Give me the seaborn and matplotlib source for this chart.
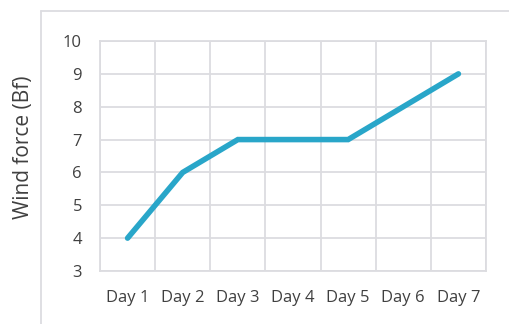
import matplotlib
matplotlib.use("Agg")
import matplotlib.pyplot as plt
import seaborn as sns
import pandas as pd
from matplotlib.lines import Line2D

days = ["Day 1", "Day 2", "Day 3", "Day 4", "Day 5", "Day 6", "Day 7"]
wind = [4, 6, 7, 7, 7, 8, 9]
y_ticks = [3, 4, 5, 6, 7, 8, 9, 10]

sns.set_theme(style="white")
plt.rcParams['font.family'] = ['Open Sans', 'DejaVu Sans']

df = pd.DataFrame({"day": days, "wind": wind})

fig = plt.figure(figsize=(5.10, 3.24), dpi=100)
ax = fig.add_axes([100/510, 1-271/324, 386/510, 230/324])

sns.lineplot(data=df, x="day", y="wind", ax=ax, color="#29a6c9", linewidth=4,
             sort=False, solid_capstyle="round", solid_joinstyle="miter")

ax.set_xlim(-0.5, len(days) - 0.5)
ax.set_ylim(3, 10)
ax.set_yticks(y_ticks)
ax.set_xticks(range(len(days)))
ax.set_xticklabels(days)
ax.set_xticks([i - 0.5 for i in range(len(days) + 1)], minor=True)
ax.grid(True, which="minor", axis="x", color="#dcdce0", linewidth=1.3)
ax.grid(True, which="major", axis="y", color="#dcdce0", linewidth=1.3)
ax.grid(False, which="major", axis="x")
ax.set_axisbelow(True)
for s in ax.spines.values():
    s.set_color("#dcdce0")
    s.set_linewidth(1.3)

ax.tick_params(axis="both", which="both", length=0, labelsize=12, colors="#404040")
ax.tick_params(axis="x", pad=14)
ax.tick_params(axis="y", pad=13)
ax.set_xlabel("")
ax.set_ylabel("Wind force (Bf)", fontsize=15, color="#404040")
ax.yaxis.set_label_coords(-0.172, 0.54)

# outer chart frame (partially visible)
fig.add_artist(Line2D([41/510, 1.0], [1-11/324, 1-11/324], transform=fig.transFigure,
                      color="#dcdce0", linewidth=1.3))
fig.add_artist(Line2D([41/510, 41/510], [0, 1-11/324], transform=fig.transFigure,
                      color="#dcdce0", linewidth=1.3))

fig.savefig("out.png", dpi=100)
